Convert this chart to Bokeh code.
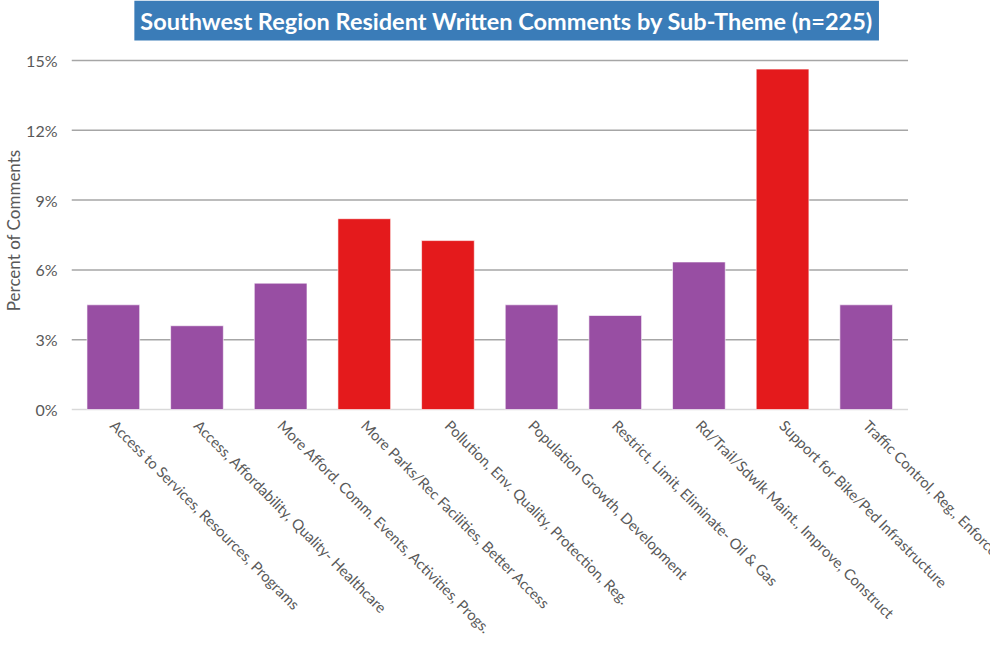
import math
from bokeh.plotting import figure
from bokeh.models import NumeralTickFormatter, FixedTicker, Title, Range1d
from bokeh.core.properties import value
from bokeh.embed import file_html
from bokeh.resources import INLINE

categories = [
    "Access to Services, Resources, Programs",
    "Access, Affordability, Quality- Healthcare",
    "More Afford. Comm. Events, Activities, Progs.",
    "More Parks/Rec Facilities, Better Access",
    "Pollution, Env. Quality, Protection, Reg.",
    "Population Growth, Development",
    "Restrict, Limit, Eliminate- Oil & Gas",
    "Rd/Trail/Sdwlk Maint., Improve, Construct",
    "Support for Bike/Ped Infrastructure",
    "Traffic Control, Reg., Enforce.",
]
values = [0.0450, 0.0360, 0.0543, 0.0820, 0.0726, 0.0450, 0.0404, 0.0634, 0.1463, 0.0450]
colors = ["#984ea3", "#984ea3", "#984ea3", "#e41a1c", "#e41a1c",
          "#984ea3", "#984ea3", "#984ea3", "#e41a1c", "#984ea3"]
y_ticks = [0, 0.03, 0.06, 0.09, 0.12, 0.15]
title_text = "Southwest Region Resident Written Comments by Sub-Theme (n=225)"
y_title = "Percent of Comments"

FONT = "Lato"
W, H = 990, 638
LEFT = 65               # frame left (px)
TOP_GRID = 60           # px from canvas top to the 15% line
PLOT_H = 349            # pixels from 0% to 15%
CAT_W = 84.2            # pixels per category
TITLE_CX, TITLE_CY = 503, 20   # title centre (px)

n = len(categories)
xs = list(range(n))
ymax = y_ticks[-1]
upp = ymax / PLOT_H     # data units per pixel
y_top = ymax + TOP_GRID * upp
y_bot = ymax - (H - TOP_GRID) * upp
x_end = -0.5 + (W - LEFT) / CAT_W

p = figure(
    x_range=Range1d(-0.5, x_end),
    y_range=Range1d(y_bot, y_top),
    width=W, height=H,
    output_backend="svg", toolbar_location=None,
    min_border_left=LEFT, min_border_right=0, min_border_top=0, min_border_bottom=0,
)
p.outline_line_color = None
p.background_fill_color = "white"
p.border_fill_color = "white"

# title box
p.text(x=[-0.5 + (TITLE_CX - LEFT) / CAT_W], y=[y_top - TITLE_CY * upp], text=[title_text],
       text_align="center", text_baseline="middle",
       text_font=value(FONT), text_font_style="bold", text_font_size="23.5px",
       text_color="white", background_fill_color="#3a7cb8", padding=6)

# gridlines (behind bars) and baseline
grid_y = y_ticks[1:]
p.segment(x0=[-0.5] * len(grid_y), x1=[n - 0.5] * len(grid_y), y0=grid_y, y1=grid_y,
          line_color="#a6a6a6", line_width=1.5)
p.segment(x0=[-0.5], x1=[n - 0.5], y0=[y_ticks[0]], y1=[y_ticks[0]],
          line_color="#d9d9d9", line_width=1.5)

p.vbar(x=xs, top=values, width=0.63, fill_color=colors,
       line_color="white", line_alpha=0.6, line_width=1)

# category labels
p.text(x=xs, y=[0] * n, text=categories, angle=-math.pi / 4,
       text_align="left", text_baseline="middle", x_offset=0, y_offset=13,
       text_font=value(FONT), text_font_size="14.8px", text_color="#595959")

p.xgrid.grid_line_color = None
p.ygrid.grid_line_color = None
p.xaxis.visible = False

p.yaxis.ticker = FixedTicker(ticks=y_ticks)
p.yaxis.formatter = NumeralTickFormatter(format="0%")
p.yaxis.axis_line_color = None
p.yaxis.major_tick_line_color = None
p.yaxis.minor_tick_line_color = None
p.yaxis.major_label_text_font = FONT
p.yaxis.major_label_text_font_size = "16px"
p.yaxis.major_label_text_color = "#595959"
p.yaxis.major_label_standoff = 8

# vertical axis title
p.add_layout(Title(text=y_title, align="right", offset=149, standoff=0,
                   text_font=FONT, text_font_size="17px", text_font_style="normal",
                   text_color="#595959"), "left")

open("out.html", "w").write(file_html(p, INLINE))
